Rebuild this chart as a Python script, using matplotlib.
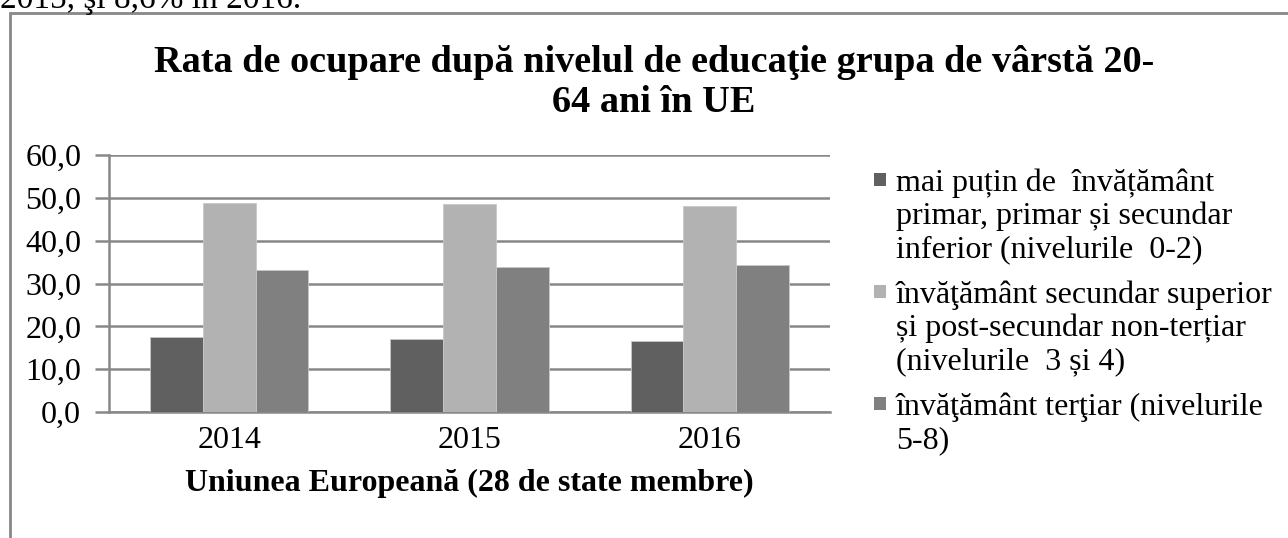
import numpy as np
import matplotlib.pyplot as plt
from matplotlib.patches import Rectangle

plt.rcParams['font.family'] = ['Liberation Serif', 'DejaVu Serif']

years = ['2014', '2015', '2016']
low_edu = [17.4, 17.0, 16.6]
mid_edu = [48.7, 48.5, 48.2]
high_edu = [33.2, 33.9, 34.4]
labels = ['mai puțin de  învățământ\nprimar, primar și secundar\ninferior (nivelurile  0-2)',
          'învăţământ secundar superior\nși post-secundar non-terțiar\n(nivelurile  3 și 4)',
          'învăţământ terţiar (nivelurile\n5-8)']
colors = ['#606060', '#b2b2b2', '#808080']

W, H = 1288, 538
fig = plt.figure(figsize=(W / 100, H / 100), dpi=100)
ax = fig.add_axes([109 / W, 1 - 412 / H, (830 - 109) / W, 257 / H])

x = np.arange(len(years))
w = 0.22
for i, vals in enumerate([low_edu, mid_edu, high_edu]):
    ax.bar(x + (i - 1) * w, vals, w, color=colors[i], edgecolor='#c8c8c8', linewidth=0.6, zorder=3)

ax.set_xlim(-0.5, 2.5)
ax.set_ylim(0, 60)
ax.set_yticks(np.arange(0, 61, 10))
ax.set_yticklabels([f'{v:.1f}'.replace('.', ',') for v in np.arange(0, 61, 10)])
ax.set_xticks(x)
ax.set_xticklabels(years)
ax.grid(axis='y', color='#888888', linewidth=1.8, zorder=0)
for s in ['top', 'right']:
    ax.spines[s].set_visible(False)
for s in ['left', 'bottom']:
    ax.spines[s].set_color('#888888')
    ax.spines[s].set_linewidth(1.8)
ax.tick_params(axis='y', length=10, width=1.8, color='#888888', labelsize=23, pad=10)
ax.tick_params(axis='x', length=0, labelsize=23, pad=10)
ax.set_xlabel('Uniunea Europeană (28 de state membre)', fontsize=23, fontweight='bold', labelpad=10)

fig.text(654 / W, 1 - 45 / H, 'Rata de ocupare după nivelul de educaţie grupa de vârstă 20-\n64 ani în UE',
         ha='center', va='top', fontsize=27.5, fontweight='bold', linespacing=1.2)

# legend: square next to the first line of each (wrapped) label
y = 183
for lab, c in zip(labels, colors):
    lines = lab.split('\n')
    fig.patches.append(Rectangle((874 / W, 1 - (y + 3) / H), 12 / W, 13 / H,
                                 transform=fig.transFigure, facecolor=c, edgecolor='none'))
    for j, line in enumerate(lines):
        fig.text(896 / W, 1 - (y + j * 33 + 8) / H, line, ha='left', va='baseline', fontsize=23)
    y += len(lines) * 33 + 13

# outer chart border (continues past the image edge)
fig.patches.append(Rectangle((10 / W, -0.1), 1.2, 1 - 13 / H + 0.1, transform=fig.transFigure,
                             fill=False, edgecolor='#888888', linewidth=2))
# cut-off line of text above the chart
fig.text(0, 1 - 8 / H, '2015, şi 8,6% în 2016.', ha='left', va='baseline', fontsize=24)

fig.savefig('out.png', dpi=100)
